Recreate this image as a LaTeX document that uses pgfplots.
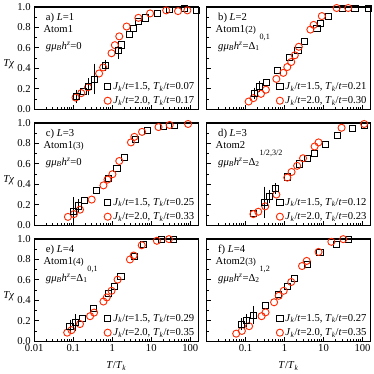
\documentclass[border=0pt]{standalone}
\usepackage{fontspec}
\setmainfont{Liberation Serif}
\usepackage{pgfplots}
\pgfplotsset{compat=1.18}
\usepgfplotslibrary{groupplots}

\definecolor{cred}{RGB}{255,40,0}
\newcommand{\Jk}{\textit{J}\textsubscript{\textit{k}}}
\newcommand{\Tk}{\textit{T}\textsubscript{\textit{k}}}
\newcommand{\leg}[2]{\Jk/\textit{t}=#1, \Tk/\textit{t}=#2}
\newcommand{\ghz}{\textit{gμ}\textsubscript{\textit{B}}\textit{h}\textsuperscript{\textit{z}}=}
\newcommand{\Dl}[2]{Δ\textsubscript{#1}\raisebox{1.9ex}{\footnotesize #2}}

\tikzset{txt/.style={anchor=base west, font=\fontsize{10.5}{12}\selectfont}}

\pgfplotsset{
  panel/.style={
    width=162pt, height=101pt, scale only axis,
    xmode=log, xmin=0.01, xmax=160, ymin=0, ymax=1,
    xtick={0.01,0.1,1,10,100},
    minor xtick={0.02,0.03,0.04,0.05,0.06,0.07,0.08,0.09,0.2,0.3,0.4,0.5,0.6,0.7,0.8,0.9,2,3,4,5,6,7,8,9,20,30,40,50,60,70,80,90},
    ytick={0,0.2,0.4,0.6,0.8,1},
    minor ytick={0.1,0.3,0.5,0.7,0.9},
    tick align=inside, xtick pos=bottom, ytick pos=left,
    major tick length=4.5pt, minor tick length=2.5pt,
    every tick/.style={black, line width=0.9pt},
    axis line style={line width=1.3pt},
    tick label style={font=\fontsize{10.5}{12}\selectfont},
    /pgf/number format/assume math mode=true,
    xticklabels={}, yticklabels={},
    clip=false,
    legend style={draw=none, fill=none, at={(0.995,0.01)}, anchor=south east,
      font=\fontsize{10.5}{12}\selectfont, row sep=1.5pt, inner sep=1pt,
      cells={anchor=west}},
    legend image code/.code={\draw[mark repeat=2,mark phase=2,#1]
      plot coordinates {(0cm,0cm) (0.13cm,0cm) (0.26cm,0cm)};},
  },
  leftp/.style={yticklabels={0.0,0.2,0.4,0.6,0.8,1.0},
    ylabel={\textit{Tχ}},
    ylabel style={rotate=-90, at={(rel axis cs:-0.155,0.44)}, anchor=center,
      font=\fontsize{10.5}{12}\selectfont}},
  botp/.style={xlabel={\textit{T}/\Tk},
    xlabel style={at={(rel axis cs:0.5,-0.245)}, anchor=center,
      font=\fontsize{10.5}{12}\selectfont}},
  sq/.style={only marks, mark=square, mark size=3pt, black, line width=0.7pt},
  ci/.style={only marks, mark=o, mark size=3.5pt, cred, line width=0.9pt},
  eb/.style={only marks, mark=square, mark size=3pt, black, line width=0.7pt,
    forget plot,
    error bars/.cd, y dir=both, y explicit,
    error bar style={line width=0.7pt, black},
    error mark options={black, mark size=2.5pt, line width=0.7pt}},
}

\begin{document}
\begin{tikzpicture}
\begin{groupplot}[group style={group size=2 by 3, horizontal sep=8pt, vertical sep=13.5pt},
  panel]

% a)
\nextgroupplot[leftp]
\addplot[sq] coordinates {(0.1195,0.126) (0.181,0.171) (0.24,0.22) (0.355,0.297) (0.682,0.43) (1.425,0.58) (1.73,0.63) (2.74,0.73) (3.47,0.79) (4.76,0.86) (6.92,0.894) (14.1,0.94) (29.5,0.977) (71.9,0.983) (143,0.967)};
\addplot[ci] coordinates {(0.1146,0.115) (0.1607,0.158) (0.2393,0.215) (0.46,0.35) (0.583,0.409) (0.957,0.548) (1.164,0.627) (1.51,0.713) (2.33,0.809) (4.67,0.894) (9.31,0.937) (24.1,0.967) (48.3,0.96) (83.9,0.967)};
\addplot[eb] coordinates {(0.1195,0.126) +- (0,0.04) (0.24,0.22) +- (0,0.06) (0.355,0.297) +- (0,0.125) (0.682,0.43) +- (0,0.03) (1.425,0.58) +- (0,0.06)};
\legend{\leg{1.5}{0.07}, \leg{2.0}{0.17}}
\node[txt] at (rel axis cs:0.05,0.871) {a) \textit{L}=1};
\node[txt] at (rel axis cs:0.035,0.752) {Atom1};
\node[txt] at (rel axis cs:0.05,0.587) {\ghz 0};

% b)
\nextgroupplot
\addplot[sq] coordinates {(0.169,0.158) (0.226,0.224) (0.346,0.267) (0.658,0.383) (1.30,0.505) (2.20,0.577) (3.30,0.661) (6.77,0.795) (8.25,0.842) (13.4,0.911) (30.8,0.99) (63.5,0.99) (138,0.99)};
\addplot[ci] coordinates {(0.121,0.076) (0.160,0.109) (0.250,0.151) (0.334,0.191) (0.620,0.297) (0.933,0.356) (1.18,0.413) (1.49,0.462) (1.84,0.528) (2.33,0.611) (4.61,0.779) (5.58,0.825) (9.06,0.911) (21.7,0.99) (43.0,0.99)};
\addplot[eb] coordinates {(0.169,0.158) +- (0,0.03) (0.226,0.224) +- (0,0.03)};
\legend{\leg{1.5}{0.21}, \leg{2.0}{0.30}}
\node[txt] at (rel axis cs:0.05,0.871) {b) \textit{L}=2};
\node[txt] at (rel axis cs:0.035,0.752) {Atom1{\small(2)}};
\node[txt] at (rel axis cs:0.05,0.587) {\ghz\Dl{1}{0,1}};

% c)
\nextgroupplot[leftp]
\addplot[sq] coordinates {(0.1,0.14) (0.135,0.19) (0.196,0.24) (0.392,0.34) (0.786,0.456) (1.31,0.556) (2.03,0.665) (3.91,0.836) (8.12,0.929) (20.6,0.968) (39.7,0.98)};
\addplot[ci] coordinates {(0.073,0.082) (0.104,0.109) (0.149,0.152) (0.297,0.251) (0.594,0.39) (0.754,0.446) (1.01,0.499) (1.51,0.628) (3.01,0.81) (3.68,0.864) (5.79,0.913) (15.3,0.96) (29.5,0.98) (87.5,0.99)};
\addplot[eb] coordinates {(0.1,0.14) +- (0,0.11) (0.135,0.19) +- (0,0.04)};
\legend{\leg{1.5}{0.25}, \leg{2.0}{0.33}}
\node[txt] at (rel axis cs:0.05,0.871) {c) \textit{L}=3};
\node[txt] at (rel axis cs:0.035,0.752) {Atom1{\small(3)}};
\node[txt] at (rel axis cs:0.05,0.587) {\ghz 0};

% d)
\nextgroupplot
\addplot[sq] coordinates {(0.160,0.119) (0.303,0.224) (0.405,0.28) (0.599,0.357) (1.18,0.473) (2.43,0.6) (3.94,0.656) (5.82,0.705) (11.0,0.794) (22.6,0.879) (54.2,0.945) (114,0.975)};
\addplot[ci] coordinates {(0.160,0.109) (0.213,0.132) (0.321,0.185) (0.620,0.30) (1.18,0.466) (1.52,0.521) (2.11,0.581) (2.99,0.655) (5.92,0.77) (7.47,0.81) (29.0,0.953) (110,0.99)};
\addplot[eb] coordinates {(0.303,0.224) +- (0,0.13) (0.405,0.28) +- (0,0.04) (0.599,0.357) +- (0,0.03)};
\legend{\leg{1.5}{0.12}, \leg{2.0}{0.23}}
\node[txt] at (rel axis cs:0.05,0.871) {d) \textit{L}=3};
\node[txt] at (rel axis cs:0.035,0.752) {Atom2};
\node[txt] at (rel axis cs:0.05,0.587) {\ghz\Dl{2}{1/2,3/2}};

% e)
\nextgroupplot[leftp, botp, xticklabels={0.01,0.1,1,10,100}]
\addplot[sq] coordinates {(0.082,0.147) (0.111,0.18) (0.171,0.223) (0.328,0.32) (0.80,0.47) (1.16,0.54) (1.66,0.637) (3.68,0.834) (6.29,0.949) (17.9,0.998) (35.9,0.998)};
\addplot[ci] coordinates {(0.070,0.084) (0.090,0.108) (0.149,0.168) (0.270,0.245) (0.342,0.28) (0.594,0.388) (0.723,0.428) (0.957,0.493) (1.37,0.602) (2.84,0.799) (3.53,0.838) (5.69,0.938) (13.9,0.982) (28.3,0.998)};
\addplot[eb] coordinates {(0.082,0.147) +- (0,0.04) (0.111,0.18) +- (0,0.06)};
\legend{\leg{1.5}{0.29}, \leg{2.0}{0.35}}
\node[txt] at (rel axis cs:0.05,0.871) {e) \textit{L}=4};
\node[txt] at (rel axis cs:0.035,0.752) {Atom1{\small(4)}};
\node[txt] at (rel axis cs:0.05,0.587) {\ghz\Dl{1}{0,1}};

% f)
\nextgroupplot[botp, xticklabels={,0.1,1,10,100}]
\addplot[sq] coordinates {(0.078,0.166) (0.104,0.2) (0.160,0.255) (0.327,0.354) (0.685,0.46) (1.16,0.537) (1.81,0.612) (3.94,0.754) (8.06,0.873) (21.3,0.95) (43.0,0.995)};
\addplot[ci] coordinates {(0.058,0.074) (0.081,0.101) (0.124,0.147) (0.259,0.245) (0.327,0.282) (0.542,0.381) (0.713,0.444) (0.955,0.493) (1.49,0.579) (2.82,0.735) (3.71,0.785) (7.47,0.873) (15.9,0.972) (32.1,0.998)};
\addplot[eb] coordinates {(0.078,0.166) +- (0,0.035) (0.104,0.2) +- (0,0.04) (0.160,0.255) +- (0,0.065)};
\legend{\leg{1.5}{0.27}, \leg{2.0}{0.35}}
\node[txt] at (rel axis cs:0.05,0.871) {f) \textit{L}=4};
\node[txt] at (rel axis cs:0.035,0.752) {Atom2{\small(3)}};
\node[txt] at (rel axis cs:0.05,0.587) {\ghz\Dl{2}{1,2}};

\end{groupplot}
\end{tikzpicture}
\end{document}
